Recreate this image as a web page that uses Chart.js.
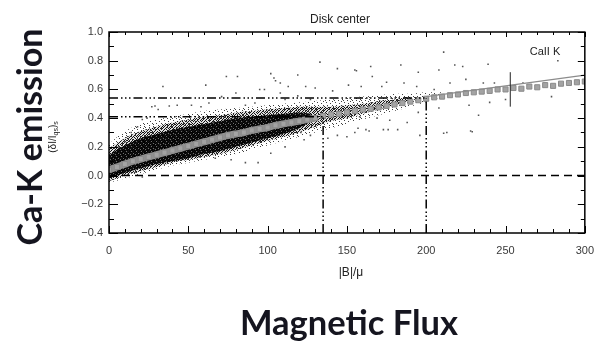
<!DOCTYPE html>
<html><head><meta charset="utf-8">
<script src="https://cdn.jsdelivr.net/npm/chart.js@4/dist/chart.umd.min.js"></script>
<style>html,body{margin:0;padding:0;background:#fff}canvas{display:block}</style>
</head><body>
<canvas id="c" width="605" height="343"></canvas>
<script>
// ---------- data ----------
const xTickValues = [0, 50, 100, 150, 200, 250, 300];
const yTickValues = [-0.4, -0.2, 0.0, 0.2, 0.4, 0.6, 0.8, 1.0];

// binned mean (grey squares)
const meanX = [0,5,10,15,20,25,30,35,40,45,50,55,60,65,70,75,80,85,90,95,100,105,110,115,120,125,130,135,140,145,150,155,160,165,170,175,180,185,190,195,200,205,210,215,220,225,230,235,240,245,250,255,260,265,270,275,280,285,290,295,300];
const meanY = [0.04,0.06,0.08,0.10,0.115,0.13,0.145,0.16,0.175,0.19,0.205,0.22,0.235,0.25,0.265,0.28,0.29,0.30,0.315,0.325,0.335,0.35,0.36,0.37,0.38,0.39,0.40,0.415,0.425,0.43,0.44,0.45,0.46,0.465,0.475,0.485,0.495,0.505,0.515,0.525,0.535,0.545,0.55,0.56,0.565,0.575,0.58,0.585,0.59,0.60,0.60,0.61,0.605,0.62,0.615,0.63,0.625,0.64,0.645,0.65,0.655];

// dense core of the scatter cloud (envelopes)
const coreX = [0,5,10,20,30,40,50,60,70,80,90,100,110,120,128];
const coreUpper = [0.14,0.18,0.21,0.26,0.29,0.32,0.34,0.36,0.38,0.40,0.41,0.42,0.43,0.44,0.43];
const coreLower = [-0.02,0.0,0.02,0.05,0.08,0.10,0.12,0.15,0.17,0.20,0.23,0.26,0.29,0.33,0.38];

// medium-density fringe of the cloud (envelopes)
const midX = [0,10,20,30,40,50,60,70,80,90,100,110,120,130,140,150,160,170,180,190];
const midUpper = [0.19,0.26,0.31,0.34,0.37,0.39,0.41,0.42,0.44,0.45,0.46,0.47,0.48,0.48,0.48,0.49,0.50,0.52,0.53,0.55];
const midLower = [-0.04,0.0,0.03,0.06,0.09,0.11,0.13,0.15,0.18,0.21,0.24,0.27,0.30,0.34,0.38,0.40,0.43,0.46,0.49,0.52];

// sparse halo of the cloud (envelopes)
const haloX = [0,10,20,30,40,50,60,70,80,90,100,110,120,130,140,150,160,170,180,190,200,210];
const haloUpper = [0.22,0.31,0.36,0.39,0.41,0.43,0.45,0.46,0.47,0.48,0.49,0.50,0.51,0.52,0.53,0.54,0.55,0.56,0.57,0.57,0.58,0.58];
const haloLower = [-0.05,-0.02,0.01,0.04,0.07,0.09,0.11,0.13,0.15,0.18,0.21,0.24,0.27,0.30,0.33,0.36,0.39,0.42,0.45,0.48,0.51,0.55];

// isolated scatter points
const outlierX = [6,10,14,18,21,24,27,29,31,34,38,43,52,58,61,63,71,74,80,81,86,92,95,98,102,104,105,108,108,111,113,119,119,124,127,130,133,141,144,151,155,156,159,165,166,172,175,184,186,194,195,205,208,211,215,218,223,225,236,239,243,261,270,283,
  208,195,188,177,169,158,162,155,176,211,150,213,229,196,182,173,164,157,144,138,127,121,250,240,227,233,228,279,21,57,67,77,86,94,102,111,123];
const outlierY = [0.20,0.235,0.30,0.34,0.39,0.40,0.48,0.485,0.46,0.62,0.485,0.49,0.49,0.48,0.63,0.505,0.55,0.69,0.575,0.69,0.49,0.505,0.60,0.60,0.71,0.68,0.66,0.645,0.575,0.53,0.62,0.70,0.555,0.62,0.53,0.61,0.79,0.59,0.745,0.63,0.735,0.73,0.62,0.76,0.69,0.62,0.65,0.77,0.645,0.62,0.72,0.60,0.735,0.86,0.645,0.77,0.76,0.67,0.645,0.775,0.645,0.645,0.62,0.80,
  0.47,0.44,0.37,0.385,0.40,0.41,0.32,0.30,0.32,0.295,0.27,0.30,0.305,0.28,0.32,0.32,0.31,0.33,0.28,0.26,0.28,0.30,0.53,0.51,0.49,0.42,0.31,0.55,-0.01,0.13,0.12,0.11,0.09,0.09,0.155,0.20,0.25];

// reference lines
const zeroLineX = [0, 300];      const zeroLineY = [0, 0];
const upperRefX = [0, 200];      const upperRefY = [0.54, 0.54];
const lowerRefX = [0, 135];      const lowerRefY = [0.41, 0.41];
const vRef1X = [135, 135];       const vRef1Y = [-0.4, 0.41];
const vRef2X = [200, 200];       const vRef2Y = [-0.4, 0.54];
const fitX = [200, 300];         const fitY = [0.55, 0.70];
const errBarX = [253, 253];      const errBarY = [0.48, 0.72];

// ---------- helpers ----------
const pts = (xs, ys) => xs.map((v, i) => ({x: v, y: ys[i]}));
const canvas = document.getElementById('c');
const mainCtx = canvas.getContext('2d');
function makePattern(size, bg, color, dots) {
  const t = document.createElement('canvas');
  t.width = t.height = size;
  const g = t.getContext('2d');
  if (bg) { g.fillStyle = bg; g.fillRect(0, 0, size, size); }
  g.fillStyle = color;
  dots.forEach(d => g.fillRect(d[0], d[1], 1, 1));
  return mainCtx.createPattern(t, 'repeat');
}
const haloPattern = makePattern(9, null, 'rgba(0,0,0,0.75)',
  [[0,0],[5,1],[8,2],[2,3],[6,4],[3,6],[8,6],[0,7],[5,8],[1,1]]);
const midPattern = makePattern(8, 'rgba(0,0,0,0.12)', 'rgba(0,0,0,0.9)',
  [[0,0],[2,0],[5,0],[1,1],[4,1],[6,1],[3,2],[7,2],[0,3],[2,3],[5,3],[1,4],[4,4],[6,4],[7,4],[0,5],[3,5],[5,5],[2,6],[4,6],[7,6],[1,7],[3,7],[6,7]]);
const corePattern = makePattern(5, 'rgba(0,0,0,0.93)', 'rgba(110,110,110,1)', [[1,1],[3,3],[0,4]]);

const DASHDOT = [9,3,1.5,2.5,1.5,2.5,1.5,3];
function refLine(xs, ys, dash, color, width, order) {
  return {data: pts(xs, ys), borderColor: color, borderWidth: width, borderDash: dash,
    pointRadius: 0, showLine: true, fill: false, order: order, tension: 0};
}

// ---------- decorations plugin ----------
const decor = {
  id: 'decor',
  afterDraw(chart) {
    const {ctx, chartArea: a, scales: {x, y}} = chart;
    ctx.save();
    ctx.strokeStyle = '#000';
    ctx.lineWidth = 1;
    const seg = (x1, y1, x2, y2) => { ctx.beginPath(); ctx.moveTo(x1, y1); ctx.lineTo(x2, y2); ctx.stroke(); };
    for (let i = 0; i <= 30; i++) {
      const v = i * 10, px = Math.round(x.getPixelForValue(v)) + 0.5, major = (i % 5 === 0);
      seg(px, a.bottom, px, a.bottom - (major ? 7 : 4));
      seg(px, a.top, px, a.top + (major ? 5 : 3));
    }
    for (let i = 0; i <= 14; i++) {
      const v = -0.4 + i * 0.1, py = Math.round(y.getPixelForValue(v)) + 0.5, major = (i % 2 === 0);
      seg(a.left, py, a.left + (major ? 9 : 5), py);
      seg(a.right, py, a.right - (major ? 7 : 4), py);
    }
    ctx.lineWidth = 1.5;
    ctx.strokeRect(a.left, a.top, a.right - a.left, a.bottom - a.top);

    // small texts
    ctx.fillStyle = '#222';
    ctx.font = '12px "Liberation Sans", Arial, sans-serif';
    ctx.textAlign = 'center';
    ctx.textBaseline = 'alphabetic';
    ctx.fillText('Disk center', 340, 23);
    ctx.font = '11px "Liberation Sans", Arial, sans-serif';
    ctx.fillText('CaII K', 545, 55);
    ctx.font = '12px "Liberation Sans", Arial, sans-serif';
    ctx.fillText('|B|/μ', 351, 276);

    // (δI/I_qs)_s rotated
    ctx.save();
    ctx.translate(56, 137);
    ctx.rotate(-Math.PI / 2);
    const parts = [['(δI/I', false], ['qs', true], [')', false], ['s', true]];
    const fN = '10px "Liberation Sans", Arial, sans-serif', fS = '7px "Liberation Sans", Arial, sans-serif';
    let w = 0;
    parts.forEach(p => { ctx.font = p[1] ? fS : fN; w += ctx.measureText(p[0]).width; });
    let cx = -w / 2;
    ctx.textAlign = 'left';
    parts.forEach(p => { ctx.font = p[1] ? fS : fN; ctx.fillText(p[0], cx, p[1] ? 2 : 0); cx += ctx.measureText(p[0]).width; });
    ctx.restore();

    // big labels
    const fitFont = (txt, target) => {
      ctx.font = 'bold 37px Lato, "Open Sans", sans-serif';
      const m = ctx.measureText(txt).width;
      const s = 37 * target / m;
      ctx.font = 'bold ' + s.toFixed(1) + 'px Lato, "Open Sans", sans-serif';
    };
    ctx.fillStyle = '#15151f';
    ctx.textAlign = 'center';
    ctx.save();
    ctx.translate(42, 137);
    ctx.rotate(-Math.PI / 2);
    fitFont('Ca-K emission', 217);
    ctx.fillText('Ca-K emission', 0, 0);
    ctx.restore();
    fitFont('Magnetic Flux', 218);
    ctx.fillText('Magnetic Flux', 349, 335);
    ctx.restore();
  }
};

// ---------- chart ----------
new Chart(canvas, {
  type: 'line',
  data: {
    datasets: [
      {data: pts(haloX, haloUpper), borderWidth: 0, pointRadius: 0, fill: 1, backgroundColor: haloPattern, order: 12, tension: 0.3},
      {data: pts(haloX, haloLower), borderWidth: 0, pointRadius: 0, fill: false, order: 12, tension: 0.3},
      {data: pts(midX, midUpper), borderWidth: 0, pointRadius: 0, fill: 3, backgroundColor: midPattern, order: 11, tension: 0.3},
      {data: pts(midX, midLower), borderWidth: 0, pointRadius: 0, fill: false, order: 11, tension: 0.3},
      {data: pts(coreX, coreUpper), borderWidth: 0, pointRadius: 0, fill: 5, backgroundColor: corePattern, order: 10, tension: 0.3},
      {data: pts(coreX, coreLower), borderWidth: 0, pointRadius: 0, fill: false, order: 10, tension: 0.3},
      {data: pts(outlierX, outlierY), showLine: false, pointStyle: 'rect', pointRadius: 1.1, pointBorderWidth: 0,
        pointBackgroundColor: '#555', order: 8},
      {data: pts(meanX, meanY).filter(p => p.x <= 130), showLine: true, borderWidth: 7, borderColor: '#909090',
        pointRadius: 0, fill: false, order: 7, tension: 0.2},
      {data: pts(meanX, meanY), showLine: false, pointStyle: 'rect', pointRadius: 3.6, pointBorderWidth: 1,
        pointBackgroundColor: '#a3a3a3', pointBorderColor: '#8a8a8a', order: 6},
      refLine(fitX, fitY, [], '#8c8c8c', 1.2, 5),
      refLine(zeroLineX, zeroLineY, [8,5], '#000', 1.5, 4),
      refLine(upperRefX, upperRefY, DASHDOT, '#000', 1.5, 3),
      refLine(lowerRefX, lowerRefY, DASHDOT, '#000', 1.5, 3),
      refLine(vRef1X, vRef1Y, DASHDOT, '#000', 1.5, 3),
      refLine(vRef2X, vRef2Y, DASHDOT, '#000', 1.5, 3),
      refLine(errBarX, errBarY, [], '#222', 1, 2)
    ]
  },
  options: {
    responsive: false,
    devicePixelRatio: 1,
    animation: false,
    layout: {padding: {left: 0, right: 15, top: 32, bottom: 0}},
    plugins: {legend: {display: false}, tooltip: {enabled: false}},
    scales: {
      x: {
        type: 'linear', min: 0, max: 300,
        afterFit: s => { s.height = 110; },
        afterBuildTicks: s => { s.ticks = xTickValues.map(v => ({value: v})); },
        grid: {display: false, drawTicks: false},
        border: {display: false},
        ticks: {padding: 11, color: '#3a3a3a', font: {family: '"Liberation Sans", Arial, sans-serif', size: 11},
          maxRotation: 0, callback: v => String(v)}
      },
      y: {
        type: 'linear', min: -0.4, max: 1.0,
        afterFit: s => { s.width = 109; },
        afterBuildTicks: s => { s.ticks = yTickValues.map(v => ({value: v})); },
        grid: {display: false, drawTicks: false},
        border: {display: false},
        ticks: {padding: 6, color: '#3a3a3a', font: {family: '"Liberation Sans", Arial, sans-serif', size: 11},
          callback: v => Number(v).toFixed(1).replace('-', '−')}
      }
    }
  },
  plugins: [decor]
});
</script>
</body></html>
